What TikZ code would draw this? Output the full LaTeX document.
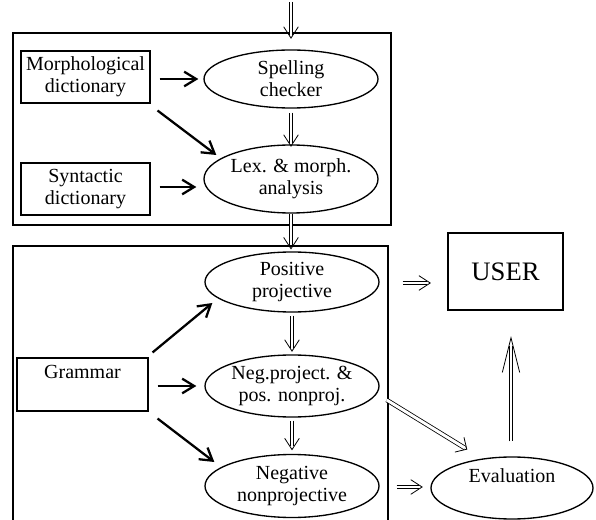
\documentclass[tikz,border=0pt]{standalone}
\usepackage{fontspec}
\setmainfont{Liberation Serif}
\usetikzlibrary{arrows.meta,shapes.geometric}
\pgfdeclarearrow{
  name = DV,
  parameters = {\the\pgfarrowlength,\the\pgfarrowwidth,\the\pgfarrowlinewidth},
  setup code = {
    \pgfarrowssettipend{0.3\pgfarrowlinewidth}
    \pgfmathsetlength{\dimen0}{-1.6*\pgfarrowlength/(0.5*\pgfarrowwidth)}
    \pgfarrowssetlineend{\dimen0}
    \pgfarrowssetbackend{-\pgfarrowlength}
    \pgfarrowssavethe\pgfarrowlength
    \pgfarrowssavethe\pgfarrowwidth
    \pgfarrowssavethe\pgfarrowlinewidth
  },
  drawing code = {
    \pgfsetlinewidth{\pgfarrowlinewidth}
    \pgfsetmiterjoin
    \pgfpathmoveto{\pgfpoint{-\pgfarrowlength}{0.5\pgfarrowwidth}}
    \pgfpathlineto{\pgfpointorigin}
    \pgfpathlineto{\pgfpoint{-\pgfarrowlength}{-0.5\pgfarrowwidth}}
    \pgfusepathqstroke
  },
  defaults = {length=8.5pt, width=11pt, line width=0.6pt}
}
\begin{document}
\begin{tikzpicture}[x=0.75pt,y=-0.75pt,
  txt/.style={font=\fontsize{15}{16.5}\selectfont},
  box/.style={draw,line width=0.8pt,rectangle,inner sep=0pt,align=center,txt},
  oval/.style={draw,line width=1pt,ellipse,inner sep=0pt,align=center,minimum width=130.5pt,txt},
  feed/.style={line width=1.7pt,-{Straight Barb[length=9pt,width=11pt,line width=1.7pt]}},
  flow/.style={double,double distance=2.2pt,line width=0.6pt,-{DV[length=8.5pt,width=11pt,line width=0.6pt]}},
  slantflow/.style={double,double distance=2.2pt,line width=0.6pt,-{DV[length=6.5pt,width=13pt,line width=0.6pt]}},
  bigflow/.style={double,double distance=2.2pt,line width=0.6pt,-{DV[length=26pt,width=13pt,line width=0.6pt]}},
]
\useasboundingbox (0,0) rectangle (596,520);
% top block
\node[draw,line width=0.8pt,minimum width=283.5pt,minimum height=144pt,inner sep=0pt] (topbox) at (202,129) {};
\node[box,minimum width=96.75pt,minimum height=39pt] (morph) at (85.5,77) {Morphological\\dictionary};
\node[box,minimum width=96.75pt,minimum height=39pt] (synt) at (85.5,189) {Syntactic\\dictionary};
\node[oval,minimum height=43.5pt] (spell) at (291,79) {Spelling\\checker};
\node[oval,minimum height=51pt] (lex) at (291,179) {Lex. \& morph.\\analysis};
% bottom block
\draw[line width=0.8pt] (13,524) -- (13,246) -- (388,246) -- (388,524);
\coordinate (bbtop) at (291,246);
\node[box,minimum width=98.25pt,text height=15pt,text depth=24.75pt,anchor=base] (gram) at (82.5,378) {Grammar};
\node[oval,minimum height=45pt] (pos) at (292,282) {Positive\\projective};
\node[oval,minimum height=46.5pt] (neg) at (292,386) {Neg.project. \&\\pos. nonproj.};
\node[oval,minimum height=47.25pt] (nneg) at (292,486) {Negative\\nonprojective};
% right side
\node[box,minimum width=86.25pt,minimum height=57.75pt,font=\fontsize{20}{24}\selectfont] (user) at (505.5,271.5) {USER};
\node[oval,minimum width=121.5pt,minimum height=46.5pt,text height=10pt,text depth=19pt] (eval) at (512,488) {Evaluation};
% input
\coordinate (src) at (291,2);
\draw[flow] (src) -- ([shift={(0,-11)}]spell.north);
% single arrows
\draw[feed] ([shift={(9,2)}]morph.east) -- ([shift={(-5,0)}]spell.west);
\draw[feed] ([shift={(7,7)}]morph.south east) -- ([shift={(13,-24)}]lex.west);
\draw[feed] ([shift={(9,-2)}]synt.east) -- ([shift={(-7,8)}]lex.west);
\draw[feed] ([shift={(4,-5)}]gram.north east) -- ([shift={(8,21)}]pos.west);
\draw[feed] ([shift={(9,1.5)}]gram.east) -- ([shift={(-8,0)}]neg.west);
\draw[feed] ([shift={(9,7)}]gram.south east) -- ([shift={(10,-24)}]nneg.west);
% double arrows
\draw[flow] ([shift={(0,4)}]spell.south) -- ([shift={(0,2)}]lex.north);
\draw[flow] (lex.south) -- ([shift={(0,3)}]bbtop);
\draw[flow] ([shift={(0,3)}]pos.south) -- ([shift={(0,-3)}]neg.north);
\draw[flow] ([shift={(0,3)}]neg.south) -- ([shift={(0,-4)}]nneg.north);
\draw[flow] ([shift={(23,1)}]pos.east) -- ([shift={(-17,11.5)}]user.west);
\draw[flow] ([shift={(17,1)}]nneg.east) -- ([shift={(-8,-1)}]eval.west);
\draw[slantflow] ([shift={(7,14)}]neg.east) -- ([shift={(-45,-7)}]eval.north);
\draw[bigflow] ([shift={(-1,-15)}]eval.north) -- ([shift={(5.5,27)}]user.south);
\end{tikzpicture}
\end{document}
